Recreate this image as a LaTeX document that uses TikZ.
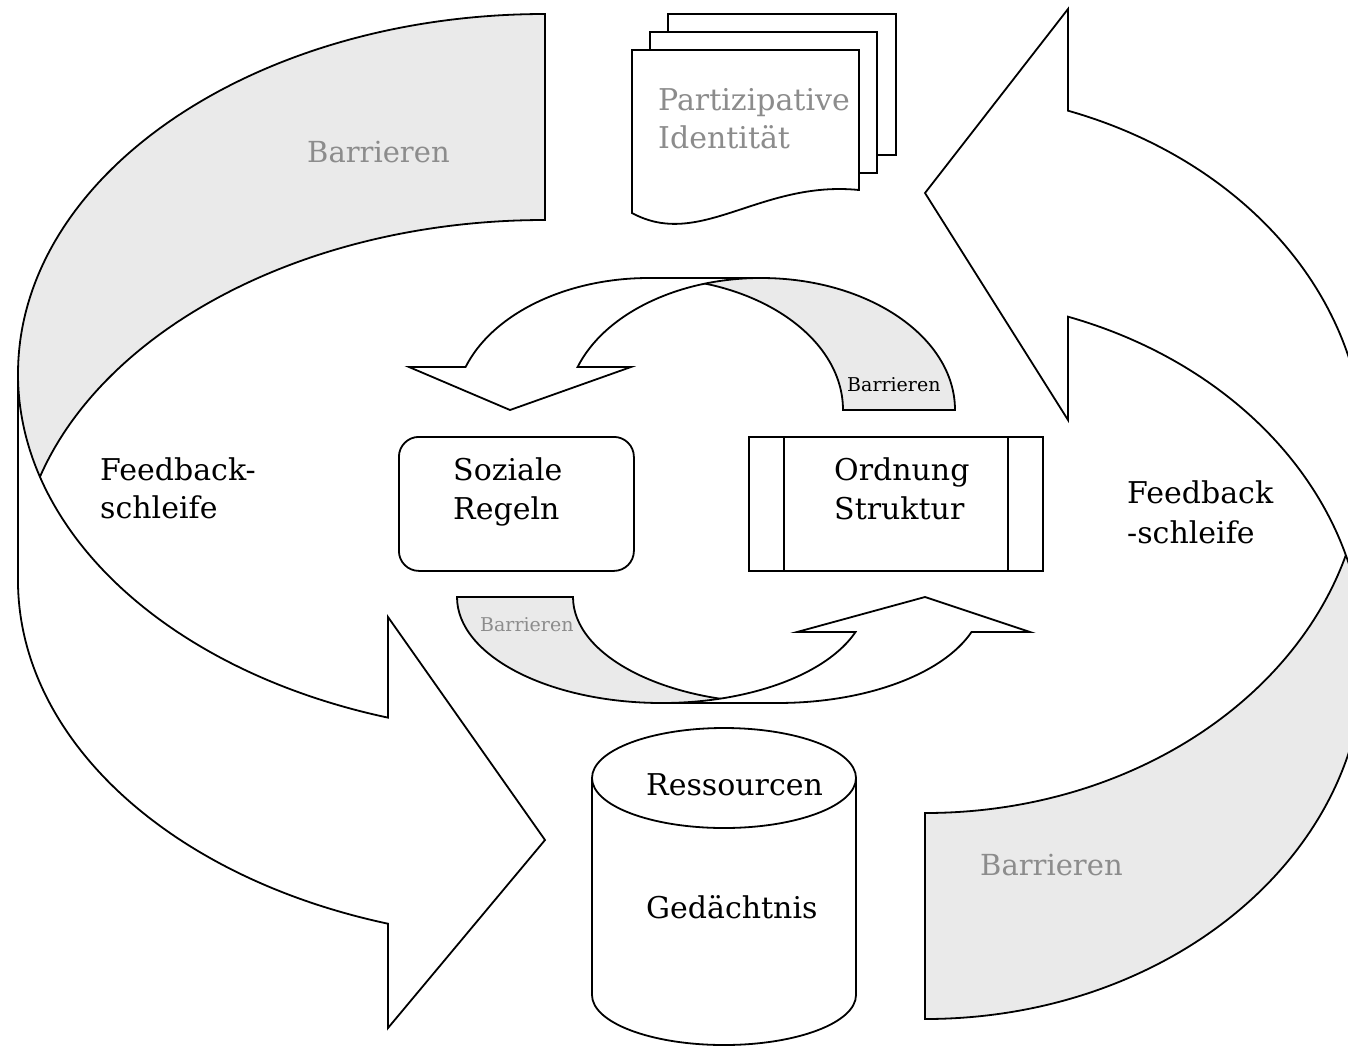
\documentclass[tikz,border=0pt]{standalone}
\usepackage{fontspec}
\setmainfont{DejaVu Serif}
\definecolor{bandgray}{RGB}{234,234,234}
\definecolor{labelgray}{RGB}{140,140,140}

\begin{document}
\begin{tikzpicture}[x=1pt, y=-1pt,
		band/.style={draw=black, line width=1.8pt, fill=bandgray},
		face/.style={draw=black, line width=1.8pt, fill=white},
		lbl/.style={anchor=base west, inner sep=0pt, font=\fontsize{30}{36}\selectfont},
		smalllbl/.style={anchor=base west, inner sep=0pt, font=\fontsize{19}{23}\selectfont}]
		\clip (0,0) rectangle (1348,1047);
		\fill[white] (0,0) rectangle (1348,1047);
		% left feedback loop
		\draw[band] (545,14) arc[start angle=270, end angle=180, x radius=527, y radius=360] -- (18,580) arc[start angle=180, end angle=270, x radius=527, y radius=360] -- cycle;
		\draw[face] (18,374) arc[start angle=180, end angle=107.33, x radius=527, y radius=360] -- (388,617) -- (545,840) -- (388,1028) -- (388,923.7) arc[start angle=107.33, end angle=180, x radius=527, y radius=360] -- cycle;
		% right feedback loop
		\draw[band] (925,1019) arc[start angle=90, end angle=0, x radius=439, y radius=361] -- (1364,452) arc[start angle=0, end angle=90, x radius=439, y radius=361] -- cycle;
		\draw[face] (1364,658) arc[start angle=0, end angle=-71, x radius=439, y radius=361] -- (1068,420) -- (925,193) -- (1068,9) -- (1068,110.7) arc[start angle=-71, end angle=0, x radius=439, y radius=361] -- cycle;
		% inner arrows
		\draw[band] (955,410) arc[start angle=0, end angle=-90, x radius=194, y radius=132] -- (649,278) arc[start angle=-90, end angle=0, x radius=194, y radius=132] -- cycle;
		\draw[face] (649,278) arc[start angle=270, end angle=199, x radius=194, y radius=132] -- (409,367) -- (510,410) -- (631,367) -- (577.6,367) arc[start angle=199, end angle=270, x radius=194, y radius=132] -- cycle;
		\draw[band] (457,597) arc[start angle=180, end angle=90, x radius=205, y radius=106] -- (778,703) arc[start angle=90, end angle=180, x radius=205, y radius=106] -- cycle;
		\draw[face] (662,703) arc[start angle=90, end angle=19.3, x radius=205, y radius=106] -- (797,632) -- (925,597) -- (1030,632) -- (971.5,632) arc[start angle=19.3, end angle=90, x radius=205, y radius=106] -- cycle;
		% boxes
		\node[face, rounded corners=20pt, minimum width=235pt, minimum height=134pt, anchor=north west, inner sep=0pt] (regelbox) at (398,436) {};
		\node[face, minimum width=294pt, minimum height=134pt, anchor=north west, inner sep=0pt] (ordbox) at (748,436) {};
		\draw[line width=1.8pt] ([xshift=36pt]ordbox.north west) -- ([xshift=36pt]ordbox.south west);
		\draw[line width=1.8pt] ([xshift=-36pt]ordbox.north east) -- ([xshift=-36pt]ordbox.south east);
		% document stack
		\draw[face] (668,14) rectangle (896,155);
		\draw[face] (650,32) rectangle (877,173);
		\draw[face] (632,50) -- (859,50) -- (859,190) .. controls (760,180) and (700,250) .. (632,213) -- cycle;
		% cylinder
		\draw[face] (592,778) -- (592,995) arc[start angle=180, end angle=0, x radius=132, y radius=50] -- (856,778);
		\draw[face] (724,778) ellipse[x radius=132, y radius=50];
		% labels
		\node[lbl, text=labelgray, font=\fontsize{29}{35}\selectfont] (barTL) at (307,162) {Barrieren};
		\node[lbl, text=labelgray] (partA) at (658,110) {Partizipative};
		\node[lbl, text=labelgray] (partB) at (658,148) {Identität};
		\node[lbl] (fbL1) at (100,480) {Feedback-};
		\node[lbl] (fbL2) at (100,518) {schleife};
		\node[lbl] (soz1) at (453,480) {Soziale};
		\node[lbl] (soz2) at (453,519) {Regeln};
		\node[lbl] (ord1) at (834,480) {Ordnung};
		\node[lbl] (ord2) at (834,519) {Struktur};
		\node[lbl] (fbR1) at (1127,503) {Feedback};
		\node[lbl] (fbR2) at (1127,543) {-schleife};
		\node[lbl] (res) at (646,795) {Ressourcen};
		\node[lbl] (ged) at (646,918) {Gedächtnis};
		\node[lbl, text=labelgray, font=\fontsize{29}{35}\selectfont] (barBR) at (980,875) {Barrieren};
		\node[smalllbl] (barT) at (847,391) {Barrieren};
		\node[smalllbl, text=labelgray] (barB) at (480,631) {Barrieren};
\end{tikzpicture}
\end{document}
